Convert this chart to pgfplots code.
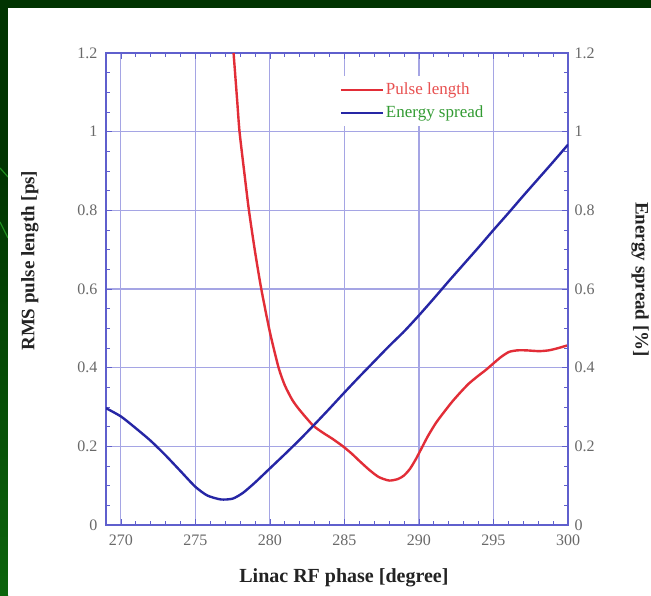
\documentclass[border=0pt]{standalone}
\usepackage{pgfplots}
\pgfplotsset{compat=1.18}
\usepackage{fontspec}
\setmainfont{Liberation Serif}
\definecolor{bggreen}{RGB}{1,52,1}
\definecolor{brgreen}{RGB}{12,100,12}
\definecolor{lngreen}{RGB}{30,140,30}
\definecolor{gridc}{RGB}{165,165,228}
\definecolor{axc}{RGB}{95,95,205}
\definecolor{redc}{RGB}{226,45,55}
\definecolor{bluec}{RGB}{38,38,165}
\definecolor{tickc}{RGB}{105,105,105}
\definecolor{labc}{RGB}{35,35,35}
\definecolor{legr}{RGB}{232,80,80}
\definecolor{legg}{RGB}{50,155,50}
\pgfplotsset{
  common/.style={
    at={(106pt,70pt)}, anchor=south west,
    width=462pt, height=472pt, scale only axis,
    xmin=269, xmax=300, ymin=0, ymax=1.2,
    ytick={0,0.2,0.4,0.6,0.8,1,1.2},
    minor y tick num=3,
    tick align=inside,
    major tick length=6pt, minor tick length=4pt,
    every tick/.style={axc, line width=0.8pt},
    axis line style={axc, line width=1.1pt},
    tick label style={font=\fontsize{16}{16}\selectfont, text=tickc},
    /pgf/number format/assume math mode=true,
  }
}
\begin{document}
\begin{tikzpicture}
\useasboundingbox (0pt,0pt) rectangle (651pt,595pt);
\fill[bggreen] (0pt,0pt) rectangle (651pt,595pt);
\shade[top color=bggreen, bottom color=brgreen] (0pt,0pt) rectangle (8pt,430pt);
\draw[lngreen, line width=1.2pt] (0pt,427pt) -- (8pt,418pt);
\draw[lngreen, line width=1.2pt] (0pt,373pt) -- (8pt,357pt);
\fill[white] (8pt,0pt) rectangle (651pt,587pt);

\begin{axis}[common,
  xtick={270,275,280,285,290,295,300},
  minor x tick num=4,
  yticklabel pos=left,
  grid=major,
  major grid style={gridc, line width=1.1pt},
  xticklabel style={yshift=-6pt},
  yticklabel style={xshift=-5pt},
  xlabel={Linac RF phase [degree]},
  ylabel={RMS pulse length [ps]},
  every axis x label/.style={at={(axis description cs:0.515,-0.112)}, anchor=center, font=\fontsize{20}{20}\selectfont\bfseries, text=labc},
  every axis y label/.style={at={(axis description cs:-0.165,0.56)}, rotate=90, anchor=center, font=\fontsize{19}{19}\selectfont\bfseries, text=labc},
]
\addplot[redc, line width=2.4pt, smooth, tension=0.4] coordinates {
(277.56,1.2) (277.8,1.08) (277.96,1.0) (278.3,0.89) (278.59,0.8) (279.0,0.695)
(279.42,0.6) (280.0,0.49) (280.58,0.4) (281.0,0.355) (281.5,0.318) (282.0,0.292)
(282.87,0.254) (283.5,0.236) (284.2,0.219) (284.9,0.2) (285.5,0.181) (286.0,0.163)
(286.67,0.14) (287.3,0.122) (288.0,0.113) (288.6,0.117) (289.0,0.126) (289.4,0.143)
(289.8,0.168) (290.2,0.197) (290.6,0.226) (291.13,0.259) (291.7,0.288) (292.24,0.314) (292.8,0.338)
(293.36,0.36) (294.0,0.38) (294.48,0.394) (295.0,0.411) (295.5,0.427) (296.04,0.44)
(296.6,0.444) (297.2,0.444) (298.05,0.442) (298.7,0.444) (299.27,0.449) (300,0.457)
};
\end{axis}

\begin{axis}[common,
  axis y line*=right, axis x line=none,
  yticklabel pos=right,
  yticklabel style={xshift=3pt},
  ylabel={Energy spread [\%]},
  every axis y label/.style={at={(axis description cs:1.156,0.52)}, rotate=-90, anchor=center, font=\fontsize{19}{19}\selectfont\bfseries, text=labc},
  legend style={at={(axis description cs:0.493,0.952)}, anchor=north west, fill=white, draw=none,
    font=\fontsize{17}{17}\selectfont, inner xsep=6pt, inner ysep=5pt, row sep=6pt},
  legend cell align=left,
  legend image code/.code={\draw[#1, line width=2pt] (0pt,0pt) -- (42pt,0pt);},
]
\addlegendimage{redc}
\addlegendentry{\textcolor{legr}{Pulse length}}
\addplot[bluec, line width=2.4pt, smooth, tension=0.4] coordinates {
(269,0.297) (270,0.276) (271,0.246) (272,0.214) (273,0.177) (274,0.137) (275,0.097)
(275.8,0.075) (276.7,0.065) (277.5,0.067) (278.2,0.082) (279,0.108) (280,0.144)
(281,0.18) (282,0.217) (283,0.256) (284,0.296) (285,0.337) (286,0.377) (287,0.416)
(288,0.455) (289,0.492) (290,0.533) (291,0.576) (292,0.62) (293,0.663) (294,0.706)
(295,0.75) (296,0.793) (297,0.837) (298,0.88) (299,0.923) (300,0.967)
};
\addlegendentry{\textcolor{legg}{Energy spread}}
\end{axis}
\end{tikzpicture}
\end{document}
